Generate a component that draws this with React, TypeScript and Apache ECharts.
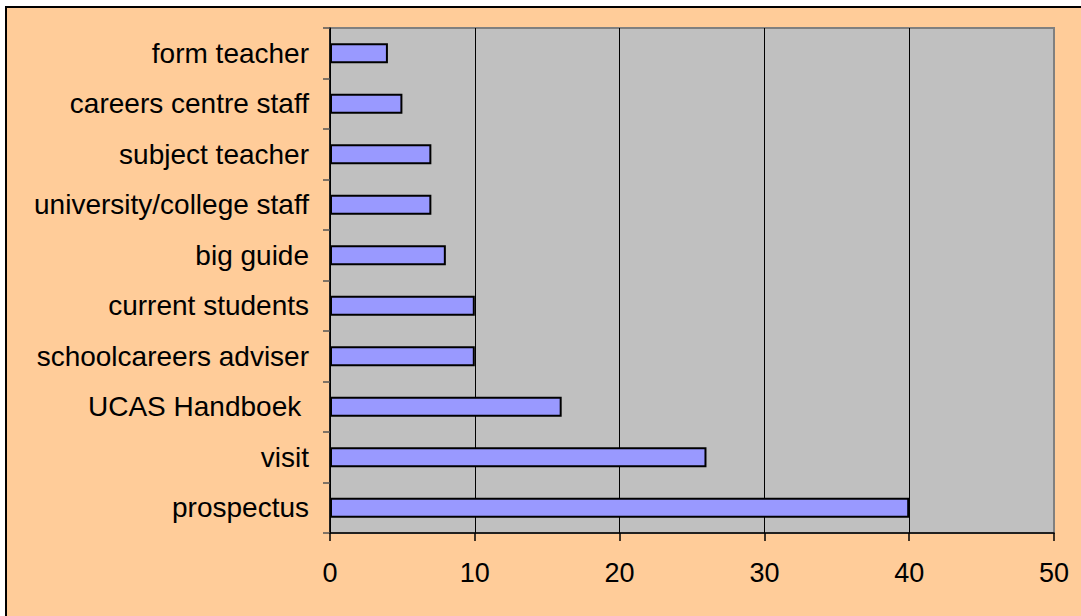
import React, { useEffect, useRef } from "react";
import * as echarts from "echarts";

const categories = [
  "prospectus",
  "visit",
  "UCAS Handboek ",
  "schoolcareers adviser",
  "current students",
  "big guide",
  "university/college staff",
  "subject teacher",
  "careers centre staff",
  "form teacher",
];
const values = [40, 26, 16, 10, 10, 8, 7, 7, 5, 4];
const xMin = 0;
const xMax = 50;
const xInterval = 10;

export default function App() {
  const ref = useRef<HTMLDivElement>(null);
  useEffect(() => {
    document.body.style.margin = "0";
    const chart = echarts.init(ref.current!, null, { renderer: "svg" });
    chart.setOption({
      animation: false,
      backgroundColor: "#ffffff",
      textStyle: { fontFamily: "Liberation Sans, Arial, sans-serif" },
      graphic: [
        {
          type: "rect",
          z: -10,
          silent: true,
          shape: { x: 6, y: 7, width: 1200, height: 800 },
          style: { fill: "#FFCC99", stroke: "#000", lineWidth: 2 },
        },
      ],
      grid: {
        left: 330,
        top: 28,
        right: 27,
        bottom: 83,
        show: true,
        backgroundColor: "#C0C0C0",
        borderColor: "#808080",
        borderWidth: 2,
        z: 0,
      },
      xAxis: {
        type: "value",
        min: xMin,
        max: xMax,
        interval: xInterval,
        axisLine: { show: true, lineStyle: { color: "#000", width: 1.5 } },
        axisTick: { show: true, length: 8, lineStyle: { color: "#000", width: 1.5 } },
        axisLabel: { color: "#000", fontSize: 27, margin: 26, fontFamily: "Liberation Sans, Arial, sans-serif" },
        splitLine: {
          show: true,
          lineStyle: { color: ["#000", "#000", "#000", "#000", "#000", "#808080"], width: 1 },
        },
      },
      yAxis: {
        type: "category",
        data: categories,
        axisLine: { show: true, lineStyle: { color: "#000", width: 1.5 } },
        axisTick: { show: true, length: 7, lineStyle: { color: "#555", width: 1.5 } },
        axisLabel: { color: "#000", fontSize: 28, margin: 21, fontFamily: "Liberation Sans, Arial, sans-serif" },
        splitLine: { show: false },
      },
      series: [
        {
          type: "bar",
          data: values,
          barWidth: 20,
          itemStyle: { color: "#9999FF", borderColor: "#000", borderWidth: 2 },
        },
      ],
    });
    return () => chart.dispose();
  }, []);
  return <div ref={ref} style={{ position: "fixed", left: 0, top: 0, width: 1081, height: 616 }} />;
}
